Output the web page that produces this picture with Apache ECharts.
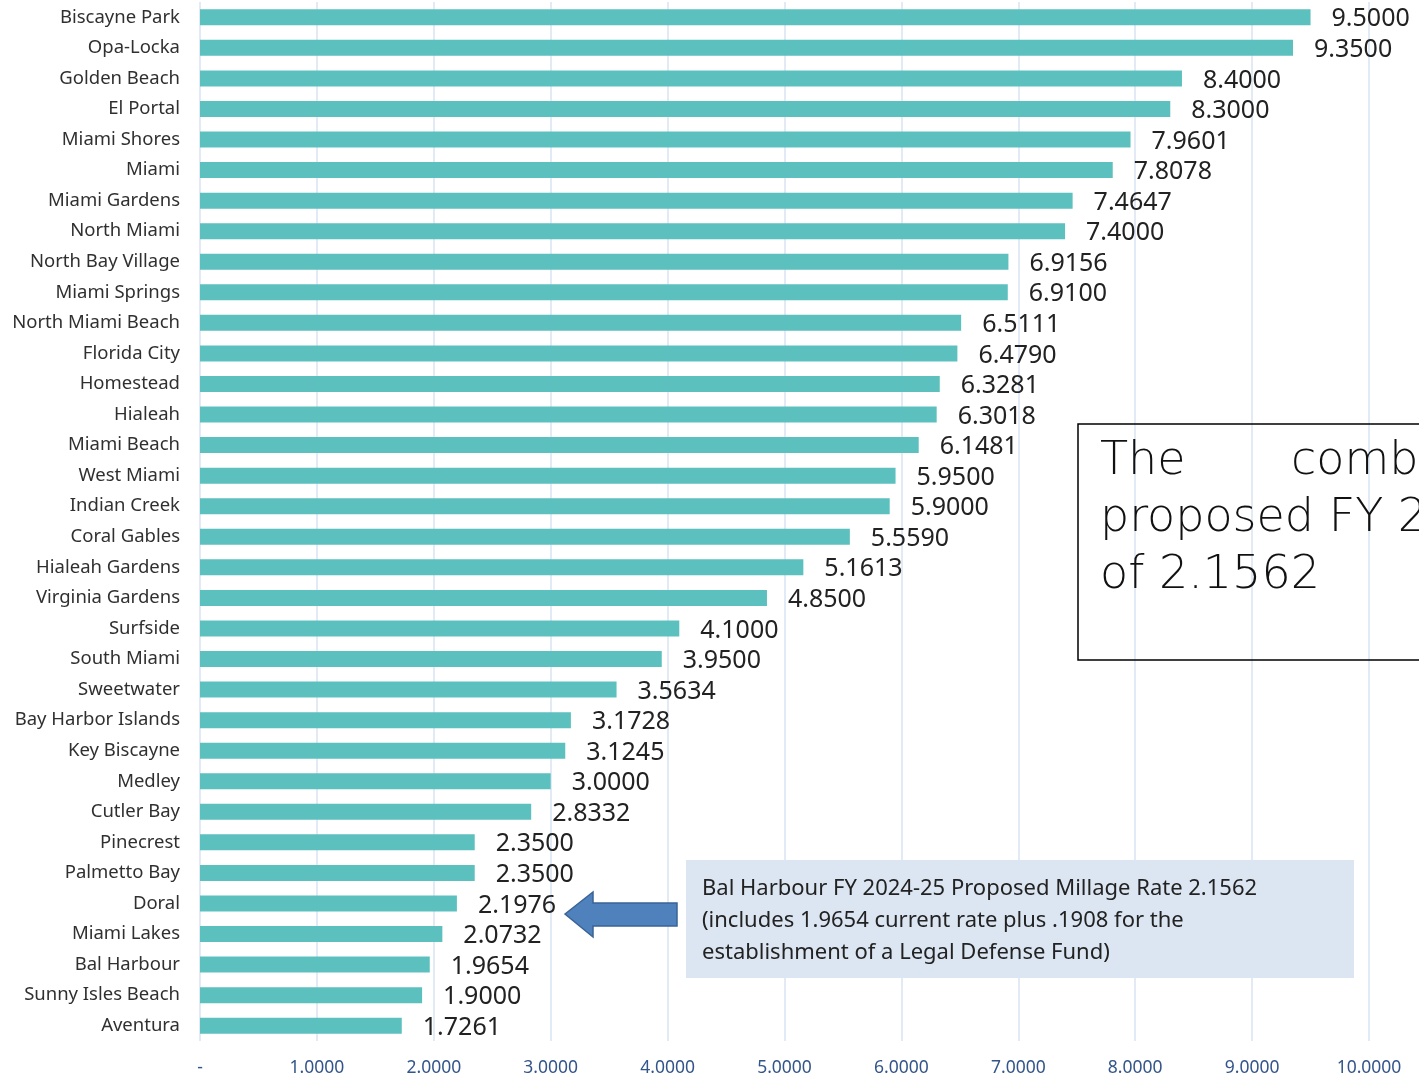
<!DOCTYPE html>
<html>
<head>
<meta charset="utf-8">
<script src="https://cdn.jsdelivr.net/npm/echarts@6/dist/echarts.min.js"></script>
<style>
html,body{margin:0;padding:0;background:#fff;}
#chart{width:1419px;height:1077px;}
</style>
</head>
<body>
<div id="chart"></div>
<script>
const municipalities = ["Biscayne Park","Opa-Locka","Golden Beach","El Portal","Miami Shores","Miami","Miami Gardens","North Miami","North Bay Village","Miami Springs","North Miami Beach","Florida City","Homestead","Hialeah","Miami Beach","West Miami","Indian Creek","Coral Gables","Hialeah Gardens","Virginia Gardens","Surfside","South Miami","Sweetwater","Bay Harbor Islands","Key Biscayne","Medley","Cutler Bay","Pinecrest","Palmetto Bay","Doral","Miami Lakes","Bal Harbour","Sunny Isles Beach","Aventura"];
const millageRates = [9.5000,9.3500,8.4000,8.3000,7.9601,7.8078,7.4647,7.4000,6.9156,6.9100,6.5111,6.4790,6.3281,6.3018,6.1481,5.9500,5.9000,5.5590,5.1613,4.8500,4.1000,3.9500,3.5634,3.1728,3.1245,3.0000,2.8332,2.3500,2.3500,2.1976,2.0732,1.9654,1.9000,1.7261];
const axisMin = 0, axisMax = 10, axisStep = 1;
const noteLines = ["Bal Harbour FY 2024-25 Proposed Millage Rate 2.1562","(includes 1.9654 current rate plus .1908 for the","establishment of a Legal Defense Fund)"];
const boxLines = ["proposed FY 2024-25","of 2.1562"];

const chart = echarts.init(document.getElementById('chart'));
chart.setOption({
  animation:false,
  backgroundColor:'#ffffff',
  grid:{left:200,right:50,top:2,bottom:36,containLabel:false},
  xAxis:{
    type:'value',min:axisMin,max:axisMax,interval:axisStep,
    axisLine:{show:false},axisTick:{show:false},
    splitLine:{show:true,lineStyle:{color:'#D9E3F3',width:1.5}},
    axisLabel:{
      margin:18,color:'#34558B',fontFamily:'Noto Sans',fontSize:17.5,
      formatter:v=>v===0?'-':v.toFixed(4)
    }
  },
  yAxis:{
    type:'category',inverse:true,data:municipalities,
    axisLine:{show:false},axisTick:{show:false},
    axisLabel:{margin:20,color:'#303030',fontFamily:'Noto Sans',fontSize:18.5}
  },
  series:[{
    type:'bar',data:millageRates,barWidth:16,
    itemStyle:{color:'#5CC1BE'},
    label:{
      show:true,position:'right',distance:21,offset:[0,2],
      color:'#222222',fontFamily:'Noto Sans',fontSize:25,
      formatter:p=>p.value.toFixed(4)
    }
  }],
  graphic:[
    {type:'rect',z:100,shape:{x:1078,y:424,width:400,height:236},
     style:{fill:'none',stroke:'#000000',lineWidth:1.5}},
    {type:'text',z:100,x:1100,y:462,style:{text:'The',font:'300 46px "DejaVu Sans"',fill:'#111',verticalAlign:'middle'}},
    {type:'text',z:100,x:1291,y:462,style:{text:'combined',font:'300 46px "DejaVu Sans"',fill:'#111',verticalAlign:'middle'}},
    {type:'text',z:100,x:1100,y:519,style:{text:boxLines[0],font:'300 46px "DejaVu Sans"',fill:'#111',verticalAlign:'middle'}},
    {type:'text',z:100,x:1100,y:576,style:{text:boxLines[1],font:'300 46px "DejaVu Sans"',fill:'#111',verticalAlign:'middle'}},
    {type:'rect',z:100,shape:{x:686,y:860,width:668,height:118},style:{fill:'#DCE6F2'}},
    {type:'text',z:101,x:702,y:889,style:{text:noteLines[0],font:'22px "Noto Sans"',fill:'#222',verticalAlign:'middle'}},
    {type:'text',z:101,x:702,y:921,style:{text:noteLines[1],font:'22px "Noto Sans"',fill:'#222',verticalAlign:'middle'}},
    {type:'text',z:101,x:702,y:953,style:{text:noteLines[2],font:'22px "Noto Sans"',fill:'#222',verticalAlign:'middle'}},
    {type:'polygon',z:100,shape:{points:[[565,914],[593,892],[593,903],[677,903],[677,926],[593,926],[593,937]]},
     style:{fill:'#4F81BD',stroke:'#3A6396',lineWidth:1.5}}
  ]
});
</script>
</body>
</html>
